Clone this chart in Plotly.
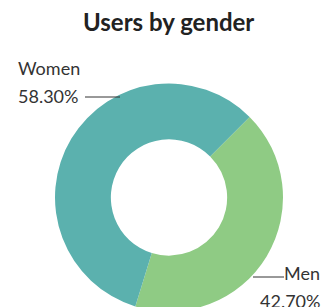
import plotly.graph_objects as go

# ---- data ----
labels = ["Men", "Women"]
values = [42.7, 58.3]
value_text = ["42.70%", "58.30%"]
colors = ["#8fcb84", "#5bb1ae"]
title_text = "Users by gender"

W, H = 335, 312

def px(x):
    return x / W

def py(y):
    return 1 - y / H

# donut placement (pixels)
cx, cy, r = 169, 197.5, 114

fig = go.Figure(
    go.Pie(
        labels=labels,
        values=values,
        sort=False,
        direction="clockwise",
        rotation=45,
        hole=0.51,
        textinfo="none",
        marker=dict(colors=colors, line=dict(width=0)),
        domain=dict(x=[px(cx - r), px(cx + r)], y=[py(cy + r), py(cy - r)]),
        showlegend=False,
    )
)

font_lbl = dict(family="Lato, sans-serif", size=18, color="#333333")
ann = [
    dict(text="<b>" + title_text + "</b>", x=px(168.5), y=py(22), xanchor="center", yanchor="middle",
         font=dict(family="Lato, sans-serif", size=24, color="#222222")),
    dict(text=labels[1], x=px(16), y=py(68), xanchor="left", yanchor="middle", font=font_lbl),
    dict(text=value_text[1], x=px(16), y=py(96), xanchor="left", yanchor="middle", font=font_lbl),
    dict(text=labels[0], x=px(322), y=py(273), xanchor="right", yanchor="middle", font=font_lbl),
    dict(text=value_text[0], x=px(322), y=py(301), xanchor="right", yanchor="middle", font=font_lbl),
]
for a in ann:
    a.update(xref="paper", yref="paper", showarrow=False)

shapes = [
    dict(type="line", xref="paper", yref="paper", x0=px(85), x1=px(120), y0=py(97), y1=py(97),
         line=dict(color="#333333", width=1)),
    dict(type="line", xref="paper", yref="paper", x0=px(253), x1=px(284), y0=py(277), y1=py(277),
         line=dict(color="#333333", width=1)),
]

fig.update_layout(
    width=W, height=H,
    margin=dict(l=0, r=0, t=0, b=0),
    paper_bgcolor="white", plot_bgcolor="white",
    annotations=ann, shapes=shapes,
)

fig.write_html("out.html", config={"displayModeBar": False},
               post_script="document.body.style.margin='0';document.body.style.overflow='hidden';")
